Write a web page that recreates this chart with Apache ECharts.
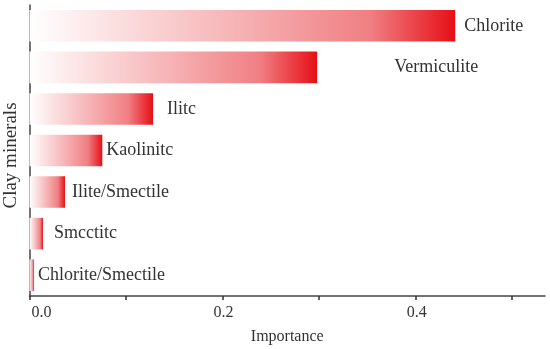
<!DOCTYPE html>
<html>
<head>
<meta charset="utf-8">
<script src="https://cdn.jsdelivr.net/npm/echarts@6/dist/echarts.min.js"></script>
<style>html,body{margin:0;padding:0;background:#fff}#c{width:550px;height:349px}</style>
</head>
<body>
<div id="c"></div>
<script>
const categories = ['Chlorite/Smectile', 'Smcctitc', 'Ilite/Smectile', 'Kaolinitc', 'Ilitc', 'Vermiculite', 'Chlorite'];
const importance = [0.0047, 0.014, 0.0368, 0.0754, 0.128, 0.298, 0.441];
const xTicks = [0, 0.1, 0.2, 0.3, 0.4, 0.5];
const xLabels = [0, 0.2, 0.4];

const labelGaps = [4, 11, 7, 4, 14, 77, 9];
const grad = {
  type: 'linear', x: 0, y: 0, x2: 1, y2: 0,
  colorStops: [
    { offset: 0, color: '#ffffff' },
    { offset: 0.5, color: '#f6b1b3' },
    { offset: 0.8, color: '#f07f83' },
    { offset: 1, color: '#e60f16' }
  ]
};
const chart = echarts.init(document.getElementById('c'));
chart.setOption({
  animation: false,
  textStyle: { fontFamily: 'Liberation Serif' },
  grid: { left: 29.5, right: 5, top: 5, bottom: 53, containLabel: false, outerBoundsMode: 'none' },
  xAxis: {
    type: 'value', min: 0, max: 0.534, interval: 0.1,
    name: 'Importance', nameLocation: 'middle', nameGap: 33,
    nameTextStyle: { fontFamily: 'Liberation Serif', fontSize: 16, color: '#333' },
    axisLine: { show: true, lineStyle: { color: '#444', width: 1.5 } },
    axisTick: { show: true, length: 4, customValues: xTicks, lineStyle: { color: '#333', width: 1.5 } },
    axisLabel: { customValues: xLabels, fontSize: 16, color: '#333', fontFamily: 'Liberation Serif', margin: 9,
      alignMinLabel: 'left', padding: [0, 0, 0, 2], formatter: v => v.toFixed(1) },
    splitLine: { show: false }
  },
  yAxis: {
    type: 'category', data: categories,
    name: 'Clay minerals', nameLocation: 'middle', nameGap: 9,
    nameTextStyle: { fontFamily: 'Liberation Serif', fontSize: 19, color: '#333', padding: [0, 10, 0, 0] },
    axisLine: { show: true, lineStyle: { color: '#444', width: 1.5 } },
    axisTick: { show: false },
    axisLabel: { show: false }
  },
  series: [{
    type: 'bar',
    barWidth: 31.6,
    data: importance.map((v, i) => ({
      value: v,
      label: { show: true, position: 'right', distance: labelGaps[i], formatter: categories[i],
        fontSize: 18, color: '#333', fontFamily: 'Liberation Serif' }
    })),
    itemStyle: { color: grad }
  }]
});
</script>
</body>
</html>
